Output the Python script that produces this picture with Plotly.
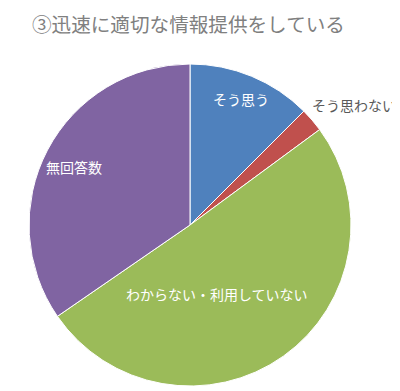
import plotly.graph_objects as go

labels = ["そう思う", "そう思わない", "わからない・利用していない", "無回答数"]
values = [12.5, 2.4, 50.5, 34.6]
colors = ["#4F81BD", "#C0504D", "#9BBB59", "#8064A2"]
title_text = "③迅速に適切な情報提供をしている"

W, H = 400, 391
OFF = 8  # page body margin
font = "Noto Sans CJK JP"

def px_x(x):
    return (x - OFF) / W

def px_y(y):
    return 1 - (y - OFF) / H

fig = go.Figure(go.Pie(
    labels=labels, values=values, sort=False, direction="clockwise", rotation=0,
    marker=dict(colors=colors, line=dict(color="white", width=1)),
    textinfo="none", hoverinfo="label+value", showlegend=False,
    domain=dict(x=[px_x(29), px_x(351)], y=[px_y(386), px_y(64)]),
))

label_pos = [(241, 99, "white"), (354, 105, "#595959"), (217, 294, "white"), (74, 167, "white")]
for lab, (px, py, col) in zip(labels, label_pos):
    fig.add_annotation(x=px_x(px), y=px_y(py), xref="paper", yref="paper",
                       text=lab, showarrow=False, xanchor="center", yanchor="middle",
                       font=dict(family=font, size=14, color=col))

fig.add_annotation(x=px_x(31), y=1.0, xref="paper", yref="paper", text=title_text,
                   showarrow=False, xanchor="left", yanchor="top", borderpad=0,
                   font=dict(family=font, size=19.6, color="#808080"))

fig.update_layout(width=W, height=H, margin=dict(l=0, r=0, t=0, b=0),
                  paper_bgcolor="white", plot_bgcolor="white")
fig.write_html("out.html")
